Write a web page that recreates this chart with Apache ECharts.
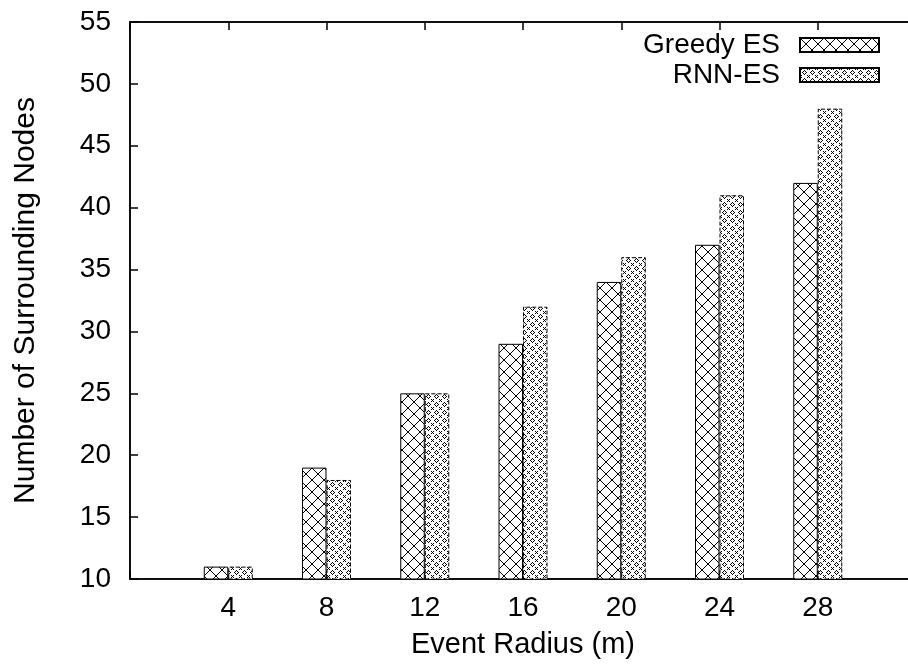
<!DOCTYPE html>
<html>
<head>
<meta charset="utf-8">
<script src="https://cdn.jsdelivr.net/npm/echarts@6/dist/echarts.min.js"></script>
<style>html,body{margin:0;padding:0;background:#fff;}#chart{width:908px;height:671px;}</style>
</head>
<body>
<div id="chart"></div>
<script>
var categories = ['4', '8', '12', '16', '20', '24', '28'];
var greedyES = [11, 19, 25, 29, 34, 37, 42];
var rnnES = [11, 18, 25, 32, 36, 41, 48];
var yTicks = [10, 15, 20, 25, 30, 35, 40, 45, 50, 55];

function crossTile() {
  var c = document.createElement('canvas');
  c.width = 12; c.height = 12;
  var g = c.getContext('2d');
  g.fillStyle = '#fff'; g.fillRect(0, 0, 12, 12);
  g.strokeStyle = '#000'; g.lineWidth = 1;
  g.beginPath();
  g.moveTo(0, 0); g.lineTo(12, 12);
  g.moveTo(12, 0); g.lineTo(0, 12);
  g.stroke();
  return c;
}
function dotTile() {
  var c = document.createElement('canvas');
  c.width = 8; c.height = 8;
  var g = c.getContext('2d');
  g.fillStyle = '#fff'; g.fillRect(0, 0, 8, 8);
  g.fillStyle = '#000';
  function p(x, y) { g.fillRect(x, y, 1, 1); }
  // small diamond
  p(4, 2); p(3, 3); p(5, 3); p(2, 4); p(6, 4); p(3, 5); p(5, 5); p(4, 6);
  // small cross at corners
  p(0, 0); p(1, 1); p(7, 7); p(1, 7); p(7, 1);
  return c;
}

var axisCats = [''].concat(categories).concat(['']);
function pad(arr) { return [null].concat(arr).concat([null]); }

var chart = echarts.init(document.getElementById('chart'), null, {renderer: 'canvas'});
var font = 'Liberation Sans, Arial, sans-serif';
chart.setOption({
  animation: false,
  backgroundColor: '#fff',
  grid: {left: 130, width: 786, top: 22, height: 557, show: true, borderColor: '#000', borderWidth: 1.5,
    outerBoundsMode: 'none', containLabel: false},
  legend: {
    right: 28, top: 31, padding: 0, orient: 'vertical', align: 'right', icon: 'rect',
    itemWidth: 79, itemHeight: 14, itemGap: 2,
    textStyle: {fontFamily: font, fontSize: 28, lineHeight: 28, color: '#000', padding: [0, 15, 0, 0]},
    data: ['Greedy ES', 'RNN-ES']
  },
  xAxis: [{
    type: 'category', data: axisCats, boundaryGap: false,
    axisLine: {lineStyle: {color: '#000', width: 1.5}},
    axisTick: {inside: true, length: 8, lineStyle: {color: '#000', width: 1.5}},
    axisLabel: {fontFamily: font, fontSize: 28, color: '#000', margin: 15, interval: 0},
    name: 'Event Radius (m)', nameLocation: 'middle', nameGap: 51,
    nameTextStyle: {fontFamily: font, fontSize: 29, color: '#000'},
    splitLine: {show: false}
  }, {
    type: 'category', data: axisCats, boundaryGap: false, position: 'top',
    axisLine: {lineStyle: {color: '#000', width: 1.5}},
    axisTick: {inside: true, length: 8, lineStyle: {color: '#000', width: 1.5}},
    axisLabel: {show: false}
  }],
  yAxis: {
    type: 'value', min: 10, max: 55, interval: 5,
    axisLine: {show: true, lineStyle: {color: '#000', width: 1.5}},
    axisTick: {show: true, inside: true, length: 8, lineStyle: {color: '#000', width: 1.5}},
    axisLabel: {fontFamily: font, fontSize: 28, color: '#000', margin: 19,
      formatter: function (v) { return yTicks.indexOf(v) >= 0 ? String(v) : ''; }},
    splitLine: {show: false},
    name: 'Number of Surrounding Nodes', nameLocation: 'middle', nameGap: 89,
    nameTextStyle: {fontFamily: font, fontSize: 30, color: '#000'}
  },
  series: [{
    name: 'Greedy ES', type: 'bar', data: pad(greedyES), barWidth: 24.5, barGap: '0%',
    itemStyle: {color: {image: crossTile(), repeat: 'repeat'}, borderColor: '#000', borderWidth: 1}
  }, {
    name: 'RNN-ES', type: 'bar', data: pad(rnnES), barWidth: 24.5, barGap: '0%',
    itemStyle: {color: {image: dotTile(), repeat: 'repeat'}, borderColor: '#000', borderWidth: 1, borderType: 'dashed'}
  }]
});
</script>
</body>
</html>
